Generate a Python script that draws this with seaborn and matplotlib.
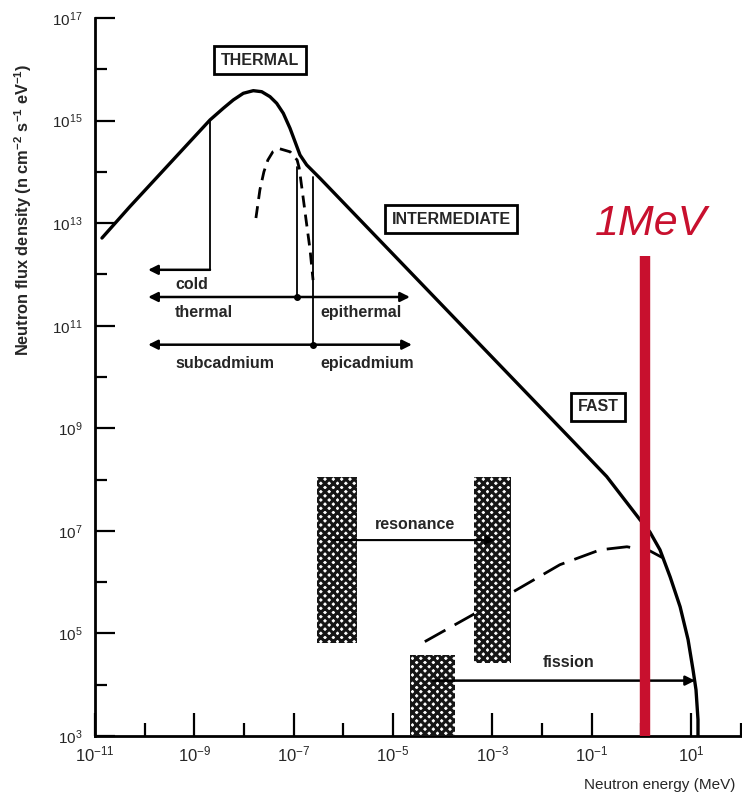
import numpy as np
import pandas as pd
import matplotlib
matplotlib.use("Agg")
import matplotlib.pyplot as plt
import seaborn as sns
from matplotlib.ticker import FixedLocator, NullFormatter

# ---------------- data (log10 values) ----------------
# total neutron flux spectrum (solid)
flux_logE = [-10.86, -10.30, -8.685, -8.417, -8.216, -8.014, -7.813, -7.644, -7.477,
             -7.342, -7.209, -7.074, -6.973, -6.873, -6.738, -6.537, -6.470,
             -1.370, -0.698, -0.03, 0.17, 0.375, 0.58, 0.78, 0.94,
             1.04, 1.10, 1.14, 1.14]
flux_logPhi = [12.71, 13.32, 15.012, 15.240, 15.402, 15.532, 15.583, 15.563, 15.466,
               15.337, 15.142, 14.850, 14.589, 14.329, 14.135, 13.940, 13.875,
               8.741, 8.059, 7.22, 6.98, 6.63, 6.10, 5.52, 4.88,
               4.29, 3.90, 3.32, 3.00]
# Maxwellian (dashed, thermal region)
maxw_logE = [-7.76, -7.68, -7.60, -7.52, -7.42, -7.28, -7.07, -6.93, -6.89, -6.83,
             -6.75, -6.67, -6.61]
maxw_logPhi = [13.10, 13.65, 14.00, 14.23, 14.39, 14.45, 14.39, 14.23, 14.08, 13.65,
               13.06, 12.48, 11.89]
# fission spectrum (dashed, fast region)
fiss_logE = [-4.36, -2.85, -1.64, -0.83, -0.29, -0.07, 0.17, 0.44]
fiss_logPhi = [4.84, 5.66, 6.34, 6.63, 6.69, 6.65, 6.61, 6.47]

# region boundaries (log10 E) and arrow levels (log10 flux)
cold_logE, cold_top, cold_level = -8.685, 15.01, 12.09
therm_logE, therm_top, therm_level = -6.93, 14.10, 11.56
cad_logE, cad_top, cad_level = -6.61, 13.90, 10.63
arrow_left_logE = -9.93
arrow_right_logE = [-4.66, -4.62]

# shaded resonance / fission bands: (logE0, logE1, logPhi0, logPhi1)
bands = [(-6.53, -5.73, 4.82, 8.05),
         (-3.37, -2.62, 4.43, 8.05),
         (-4.66, -3.75, 3.0, 4.58)]
reson_arrow = (-6.21, -2.95, 6.82)
fission_arrow = (-4.20, 1.08, 4.08)

one_mev_logE = 0.07
one_mev_top = 12.36

x_major = [-11, -9, -7, -5, -3, -1, 1]
x_minor = [-10, -8, -6, -4, -2, 0, 2]
y_major = [3, 5, 7, 9, 11, 13, 15, 17]
y_minor = [4, 6, 8, 10, 12, 14, 16]

# ---------------- style ----------------
sns.set_theme(style="white")
plt.rcParams["font.family"] = ["Liberation Sans", "DejaVu Sans"]
plt.rcParams["mathtext.default"] = "regular"
plt.rcParams["hatch.linewidth"] = 2.2

W, H = 742, 798
fig = plt.figure(figsize=(W / 100, H / 100), dpi=100)
ax = fig.add_axes([95 / W, 62 / H, 647 / W, 718 / H])
ax.set_xscale("log")
ax.set_yscale("log")

df_flux = pd.DataFrame({"E": 10 ** np.array(flux_logE), "phi": 10 ** np.array(flux_logPhi)})
df_maxw = pd.DataFrame({"E": 10 ** np.array(maxw_logE), "phi": 10 ** np.array(maxw_logPhi)})
df_fiss = pd.DataFrame({"E": 10 ** np.array(fiss_logE), "phi": 10 ** np.array(fiss_logPhi)})

sns.lineplot(data=df_flux, x="E", y="phi", ax=ax, color="black", lw=2.4,
             sort=False, estimator=None)
sns.lineplot(data=df_maxw, x="E", y="phi", ax=ax, color="black", lw=2.0,
             sort=False, estimator=None, linestyle=(0, (4.3, 2.6)))
sns.lineplot(data=df_fiss, x="E", y="phi", ax=ax, color="black", lw=2.0,
             sort=False, estimator=None, linestyle=(0, (8.5, 3.8)))

# region boundaries
ax.plot([10 ** cold_logE] * 2, [10 ** cold_top, 10 ** cold_level], color="black", lw=1.3)
ax.plot([10 ** therm_logE] * 2, [10 ** therm_top, 10 ** therm_level], color="black", lw=1.3)
ax.plot([10 ** cad_logE] * 2, [10 ** cad_top, 10 ** cad_level], color="black", lw=1.3)
ax.plot([10 ** therm_logE, 10 ** cad_logE], [10 ** therm_level, 10 ** cad_level],
        ls="none", marker="o", ms=4, color="black")

ap1 = dict(arrowstyle="-|>", lw=1.8, color="black", mutation_scale=14, shrinkA=0, shrinkB=0)
ap2 = dict(arrowstyle="<|-|>", lw=1.8, color="black", mutation_scale=14, shrinkA=0, shrinkB=0)
ax.annotate("", xy=(10 ** arrow_left_logE, 10 ** cold_level),
            xytext=(10 ** cold_logE, 10 ** cold_level), arrowprops=ap1)
ax.annotate("", xy=(10 ** arrow_left_logE, 10 ** therm_level),
            xytext=(10 ** arrow_right_logE[0], 10 ** therm_level), arrowprops=ap2)
ax.annotate("", xy=(10 ** arrow_left_logE, 10 ** cad_level),
            xytext=(10 ** arrow_right_logE[1], 10 ** cad_level), arrowprops=ap2)

fs = 11.5
fw = "bold"
ax.text(10 ** -9.39, 10 ** 11.80, "cold", fontsize=fs, weight=fw, va="center", ha="left")
ax.text(10 ** -9.39, 10 ** 11.25, "thermal", fontsize=fs, weight=fw, va="center", ha="left")
ax.text(10 ** -6.47, 10 ** 11.25, "epithermal", fontsize=fs, weight=fw, va="center", ha="left")
ax.text(10 ** -9.39, 10 ** 10.27, "subcadmium", fontsize=fs, weight=fw, va="center", ha="left")
ax.text(10 ** -6.47, 10 ** 10.27, "epicadmium", fontsize=fs, weight=fw, va="center", ha="left")

# shaded bands
for (e0, e1, p0, p1) in bands:
    ax.fill_between([10 ** e0, 10 ** e1], 10 ** p0, 10 ** p1, facecolor="white",
                    edgecolor="#161616", hatch="xxxx", lw=0, zorder=3)

ax.annotate("", xy=(10 ** reson_arrow[1], 10 ** reson_arrow[2]),
            xytext=(10 ** reson_arrow[0], 10 ** reson_arrow[2]),
            arrowprops=dict(arrowstyle="-|>", lw=1.5, color="black", mutation_scale=13,
                            shrinkA=0, shrinkB=0), zorder=4)
ax.text(10 ** -4.56, 10 ** 7.12, "resonance", fontsize=fs, weight=fw, ha="center", va="center")
ax.annotate("", xy=(10 ** fission_arrow[1], 10 ** fission_arrow[2]),
            xytext=(10 ** fission_arrow[0], 10 ** fission_arrow[2]),
            arrowprops=dict(arrowstyle="-|>", lw=1.8, color="black", mutation_scale=14,
                            shrinkA=0, shrinkB=0), zorder=4)
ax.text(10 ** -1.46, 10 ** 4.43, "fission", fontsize=fs, weight=fw, ha="center", va="center")

# region boxes
box = dict(boxstyle="square,pad=0.42", fc="white", ec="black", lw=2)
ax.text(10 ** -7.68, 10 ** 16.18, "THERMAL", fontsize=11.5, weight=fw, ha="center", va="center", bbox=box)
ax.text(10 ** -3.83, 10 ** 13.08, "INTERMEDIATE", fontsize=11.5, weight=fw, ha="center", va="center", bbox=box)
ax.text(10 ** -0.87, 10 ** 9.42, "FAST", fontsize=11.5, weight=fw, ha="center", va="center", bbox=box)

# 1 MeV marker
red = "#c8102e"
ax.plot([10 ** one_mev_logE] * 2, [1e3, 10 ** one_mev_top], color=red, lw=7.5,
        solid_capstyle="butt", zorder=5)
ax.text(10 ** 0.19, 10 ** 12.77, "1MeV", color=red, fontsize=31, style="italic",
        ha="center", va="baseline")

# axes
ax.set_xlim(1e-11, 10 ** 2.026)
ax.set_ylim(1e3, 1e17)
ax.xaxis.set_major_locator(FixedLocator([10.0 ** k for k in x_major]))
ax.xaxis.set_minor_locator(FixedLocator([10.0 ** k for k in x_minor]))
ax.yaxis.set_major_locator(FixedLocator([10.0 ** k for k in y_major]))
ax.yaxis.set_minor_locator(FixedLocator([10.0 ** k for k in y_minor]))
ax.set_xticklabels([f"$10^{{{k}}}$" for k in x_major])
ax.set_yticklabels([f"$10^{{{k}}}$" for k in y_major])
ax.xaxis.set_minor_formatter(NullFormatter())
ax.yaxis.set_minor_formatter(NullFormatter())
ax.tick_params(axis="x", which="major", direction="in", length=16.5, width=1.6,
               labelsize=12, pad=6, bottom=True, color="black")
ax.tick_params(axis="x", which="minor", direction="in", length=9.4, width=1.6,
               bottom=True, color="black")
ax.tick_params(axis="y", which="major", direction="in", length=14.4, width=1.6,
               labelsize=11, pad=9, left=True, color="black")
ax.tick_params(axis="y", which="minor", direction="in", length=8.6, width=1.6,
               left=True, color="black")
for s in ["top", "right"]:
    ax.spines[s].set_visible(False)
for s in ["left", "bottom"]:
    ax.spines[s].set_color("black")
    ax.spines[s].set_linewidth(2.0)

ax.set_xlabel("")
ax.set_ylabel("")
fig.text(660 / W, 1 - 785 / H, "Neutron energy (MeV)", fontsize=11, ha="center", va="center")
fig.text(23 / W, 1 - 210 / H,
         "Neutron flux density (n cm$^{-2}$ s$^{-1}$ eV$^{-1}$)",
         fontsize=11.8, weight="bold", rotation=90, ha="center", va="center")

fig.savefig("out.png", dpi=100)
